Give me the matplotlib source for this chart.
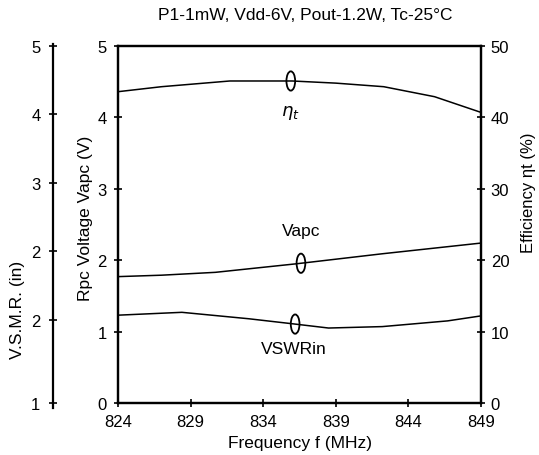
import numpy as np
import matplotlib
matplotlib.use("Agg")
import matplotlib.pyplot as plt
from matplotlib.patches import Ellipse

plt.rcParams['font.family'] = ['Liberation Sans', 'DejaVu Sans']

# values (left axis units, 0-5)
freq_eta = [824, 827, 831.7, 836, 839, 842.3, 845.8, 849]
eta = [4.36, 4.43, 4.51, 4.51, 4.48, 4.43, 4.29, 4.07]

freq_vapc = [824, 827, 830.7, 836.3, 842.2, 849]
vapc = [1.77, 1.79, 1.83, 1.95, 2.09, 2.24]

freq_vswr = [824, 828.4, 833, 836, 838.5, 842.2, 846.7, 849]
vswr = [1.23, 1.27, 1.18, 1.11, 1.05, 1.07, 1.15, 1.22]

x_ticks = [824, 829, 834, 839, 844, 849]
left_ticks = [0, 1, 2, 3, 4, 5]
right_ticks = [0, 10, 20, 30, 40, 50]
vsmr_pos = [5, 4, 3, 2, 1, -0.22]
vsmr_labels = ['5', '4', '3', '2', '2', '1']

fs = 12.5
fig = plt.figure(figsize=(5.39, 4.56), dpi=100)
ax = fig.add_axes([118 / 539, 52 / 456, 363 / 539, 357 / 456])

lw = 1.1
ax.plot(freq_eta, eta, color='black', lw=lw)
ax.plot(freq_vapc, vapc, color='black', lw=lw)
ax.plot(freq_vswr, vswr, color='black', lw=lw)

# little ellipse markers on each curve
for fx, xs, ys in [(835.9, freq_eta, eta), (836.6, freq_vapc, vapc), (836.2, freq_vswr, vswr)]:
    yy = np.interp(fx, xs, ys)
    ax.add_patch(Ellipse((fx, yy), 0.6, 0.27, fill=False, ec='black', lw=1.3))

ax.text(835.9, 4.08, r'$\eta_t$', ha='center', va='center', fontsize=13)
ax.text(836.6, 2.42, 'Vapc', ha='center', va='center', fontsize=fs)
ax.text(836.1, 0.76, 'VSWRin', ha='center', va='center', fontsize=fs)

ax.set_xlim(824, 849)
ax.set_ylim(0, 5)
ax.set_xticks(x_ticks)
ax.set_yticks(left_ticks)
ax.tick_params(direction='inout', length=6, width=1.2, labelsize=12)
ax.tick_params(axis='x', pad=5)
ax.tick_params(axis='y', pad=5)
for s in ax.spines.values():
    s.set_linewidth(1.6)
ax.set_xlabel('Frequency f (MHz)', fontsize=fs, labelpad=4)
ax.set_ylabel('Rpc Voltage Vapc (V)', fontsize=fs)
ax.yaxis.set_label_coords(-0.068, 0.52)

axr = ax.twinx()
axr.set_ylim(0, 50)
axr.set_yticks(right_ticks)
axr.tick_params(direction='inout', length=6, width=1.2, labelsize=12, pad=4)
for s in axr.spines.values():
    s.set_linewidth(1.6)
fig.text(529 / 539, 1 - 193 / 456, 'Efficiency ηt (%)', rotation=90,
         ha='center', va='center', fontsize=12)

# separate V.S.M.R. scale on the far left
axv = fig.add_axes([53 / 539, 52 / 456, 0.001, 357 / 456])
axv.set_ylim(0, 5)
for k in ['top', 'right', 'bottom']:
    axv.spines[k].set_visible(False)
axv.spines['left'].set_bounds(-0.3, 5.03)
axv.spines['left'].set_linewidth(1.6)
axv.set_xticks([])
axv.set_yticks(vsmr_pos)
axv.set_yticklabels(vsmr_labels)
axv.tick_params(direction='inout', length=6, width=1.2, labelsize=12, pad=6)
axv.patch.set_visible(False)
fig.text(18 / 539, 1 - 310 / 456, 'V.S.M.R. (in)', rotation=90,
         ha='center', va='center', fontsize=fs)

fig.text(305 / 539, 1 - 15 / 456, 'P1-1mW, Vdd-6V, Pout-1.2W, Tc-25°C',
         ha='center', va='center', fontsize=fs)

fig.savefig('out.png', dpi=100)
